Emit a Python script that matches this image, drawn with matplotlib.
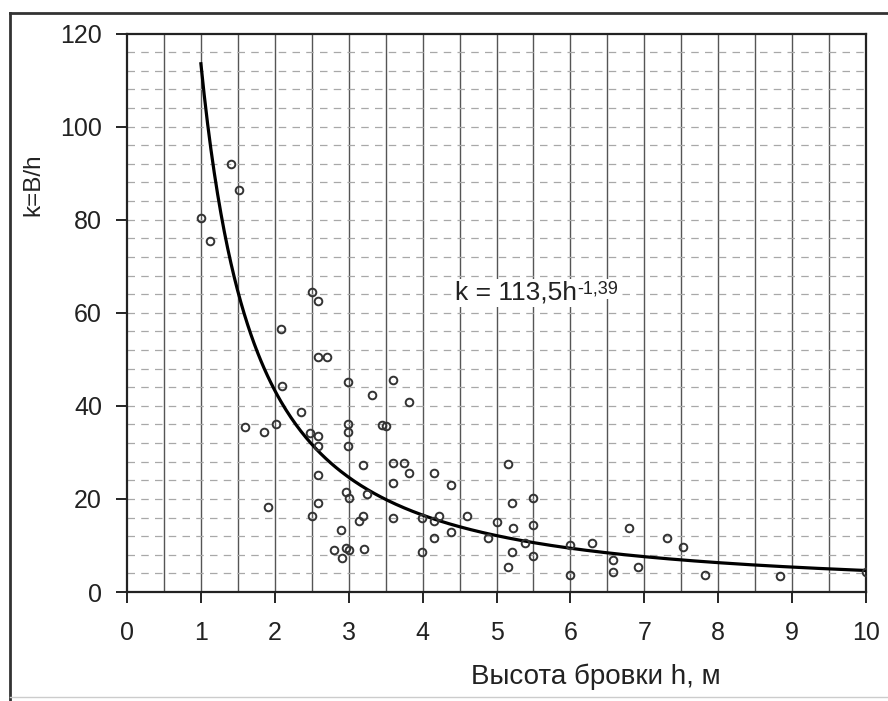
import numpy as np
import matplotlib
matplotlib.use("Agg")
import matplotlib.pyplot as plt
from matplotlib.lines import Line2D

plt.rcParams['font.family'] = ['Liberation Sans', 'DejaVu Sans']

# Data
h_pts = [1.00, 1.12, 1.41, 1.52, 1.59, 1.85, 1.91, 2.01, 2.09, 2.10, 2.36, 2.47,
         2.51, 2.51, 2.59, 2.59, 2.59, 2.59, 2.59, 2.59, 2.70, 2.80, 2.90, 2.91,
         2.97, 2.97, 2.99, 2.99, 2.99, 2.99, 3.00, 3.00, 3.14, 3.20, 3.20, 3.21,
         3.25, 3.32, 3.45, 3.50, 3.60, 3.60, 3.60, 3.60, 3.75, 3.81, 3.82, 3.99,
         3.99, 4.16, 4.16, 4.16, 4.22, 4.38, 4.38, 4.60, 4.89, 5.00, 5.15, 5.15,
         5.21, 5.21, 5.23, 5.39, 5.50, 5.50, 5.50, 6.00, 6.00, 6.29, 6.58, 6.58,
         6.79, 6.91, 7.31, 7.52, 7.82, 8.83, 10.0]
k_pts = [80.4, 75.5, 92.0, 86.4, 35.5, 34.3, 18.3, 36.1, 56.5, 44.2, 38.6, 34.1,
         64.5, 16.4, 62.5, 50.4, 33.6, 31.4, 25.1, 19.2, 50.4, 9.0, 13.4, 7.4,
         21.4, 9.5, 45.1, 36.1, 34.3, 31.3, 20.1, 9.1, 15.3, 27.3, 16.4, 9.2,
         21.0, 42.4, 35.9, 35.6, 45.5, 27.8, 23.4, 16.0, 27.8, 25.6, 40.8, 15.8,
         8.5, 25.6, 15.3, 11.5, 16.3, 22.9, 12.9, 16.4, 11.5, 15.0, 27.5, 5.4,
         19.2, 8.5, 13.8, 10.5, 20.2, 14.5, 7.7, 10.2, 3.6, 10.5, 6.9, 4.2,
         13.8, 5.4, 11.5, 9.6, 3.6, 3.4, 4.3]

coef_a = 113.5
coef_b = -1.39
fit_h = np.linspace(1.0, 10.0, 400)

x_ticks = [0, 1, 2, 3, 4, 5, 6, 7, 8, 9, 10]
y_ticks = [0, 20, 40, 60, 80, 100, 120]

fig = plt.figure(figsize=(8.88, 7.01), dpi=100)
ax = fig.add_axes([127/888, 1 - 592/701, (866 - 127)/888, (592 - 33.5)/701])

ax.set_xlim(0, 10)
ax.set_ylim(0, 120)

# graph-paper style grid
for gx in np.arange(0.5, 10, 0.5):
    ax.axvline(gx, color='#555555', lw=1.0, zorder=0)
for gy in np.arange(4, 120, 4):
    ax.axhline(gy, color='#a8a8a8', lw=0.9, ls=(0, (6, 5)), zorder=0)

ax.plot(fit_h, coef_a * fit_h ** coef_b, color='black', lw=2.3, zorder=3)
ax.plot(h_pts, k_pts, ls='none', marker='o', ms=5.5, mfc='none',
        mec='#333333', mew=1.4, zorder=4)

ax.set_xticks(x_ticks)
ax.set_yticks(y_ticks)
ax.tick_params(axis='both', direction='out', length=8, width=1.2,
               labelsize=18, colors='black')
ax.tick_params(axis='x', pad=13)
ax.tick_params(axis='y', pad=10)
for lab in ax.get_xticklabels() + ax.get_yticklabels():
    lab.set_color('#222222')
for s in ax.spines.values():
    s.set_linewidth(1.6)
    s.set_color('#222222')

t_main = ax.text(4.44, 62.8, 'k = 113,5h', fontsize=19,
                 ha='left', va='baseline', color='#222222', zorder=5,
                 bbox=dict(facecolor='white', edgecolor='none', pad=1.5))
ax.annotate('-1,39', xy=(1.0, 1.0), xycoords=t_main, xytext=(0, 0),
            textcoords='offset points', fontsize=13, ha='left', va='top',
            color='#222222', zorder=5,
            bbox=dict(facecolor='white', edgecolor='none', pad=1.0))

fig.text(596/888, 1 - 684/701, 'Высота бровки h, м', fontsize=20,
         ha='center', va='baseline', color='#222222')
fig.text(33/888, 1 - 185/701, 'k=B/h', fontsize=17.5, rotation=90,
         ha='center', va='center', color='#222222')

# outer frame of the figure
fig.add_artist(Line2D([10/888, 10/888], [0, 1 - 13/701], transform=fig.transFigure,
                      color='#333333', lw=2.0))
fig.add_artist(Line2D([10/888, 1], [1 - 13/701, 1 - 13/701], transform=fig.transFigure,
                      color='#333333', lw=2.0))
fig.add_artist(Line2D([10/888, 1], [1 - 697/701, 1 - 697/701], transform=fig.transFigure,
                      color='#cccccc', lw=1.0))

fig.savefig('out.png', dpi=100)
